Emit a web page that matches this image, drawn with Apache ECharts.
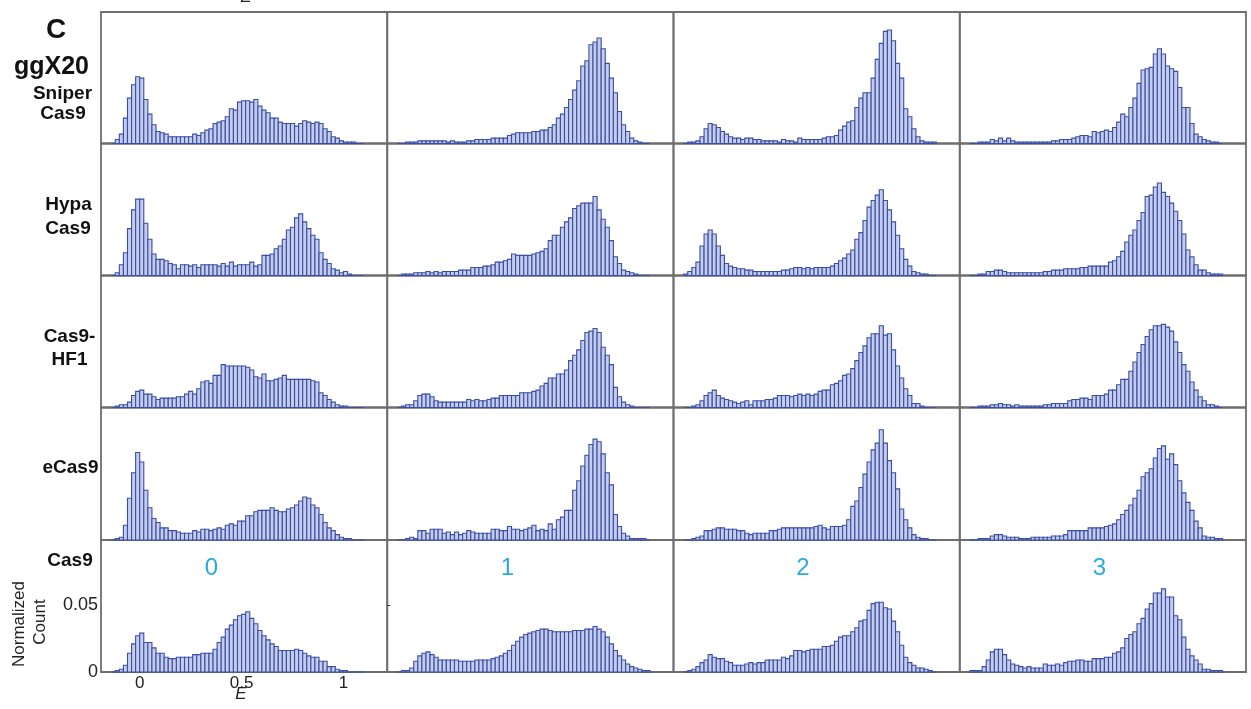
<!DOCTYPE html>
<html>
<head>
<meta charset="utf-8">
<title>ggX20 E histograms</title>
<script src="https://cdn.jsdelivr.net/npm/echarts@6/dist/echarts.min.js"></script>
<style>
    html, body { margin: 0; padding: 0; background: #fff; }
    #chart { width: 1251px; height: 709px; }
</style>
</head>
<body>
<div id="chart"></div>
<script>
// histogram bins: 0.02 wide, starting at E = -0.14
var BIN_START = -0.14;
var BIN_W = 0.02;

var rowNames = ['Sniper Cas9', 'Hypa Cas9', 'Cas9-HF1', 'eCas9', 'Cas9'];
var colNames = ['0', '1', '2', '3'];
var xTickValues = [0, 0.5, 1];
var yTickValues = [0, 0.05];

// normalized counts, one array per panel (row = protein, col = mismatches)
var sniper0 = [0,0.003,0.007,0.019,0.034,0.044,0.050,0.049,0.033,0.022,
    0.014,0.009,0.008,0.007,0.005,0.005,0.005,0.005,0.005,0.005,
    0.007,0.006,0.008,0.010,0.011,0.015,0.016,0.017,0.020,0.026,
    0.025,0.031,0.032,0.032,0.031,0.033,0.028,0.025,0.023,0.019,
    0.019,0.016,0.015,0.015,0.015,0.013,0.015,0.017,0.016,0.015,
    0.016,0.015,0.011,0.009,0.005,0.004,0.002,0.001,0.001,0.001,0,0];
var sniper1 = [0,0,0.001,0.001,0.001,0.002,0.002,0.002,0.002,0.002,
    0.002,0.002,0.001,0.002,0.001,0.001,0.001,0.002,0.002,0.003,
    0.003,0.003,0.003,0.004,0.004,0.004,0.004,0.006,0.007,0.008,
    0.008,0.008,0.008,0.009,0.009,0.010,0.010,0.012,0.014,0.019,
    0.022,0.027,0.033,0.040,0.047,0.058,0.062,0.074,0.076,0.079,
    0.071,0.060,0.049,0.038,0.024,0.014,0.009,0.004,0.002,0.001,0,0];
var sniper2 = [0,0.001,0.001,0.002,0.005,0.011,0.015,0.014,0.012,0.009,
    0.007,0.005,0.004,0.004,0.003,0.004,0.004,0.003,0.003,0.002,
    0.002,0.002,0.002,0.001,0.003,0.002,0.002,0.001,0.004,0.003,
    0.003,0.003,0.003,0.003,0.004,0.005,0.005,0.006,0.010,0.013,
    0.016,0.017,0.027,0.034,0.038,0.038,0.049,0.063,0.075,0.084,
    0.085,0.077,0.060,0.049,0.026,0.020,0.011,0.005,0.002,0.001,0.001,0.001];
var sniper3 = [0,0,0.001,0.001,0.001,0.003,0.002,0.004,0.002,0.004,
    0.002,0.001,0.001,0.001,0.001,0.001,0.001,0.001,0.001,0.001,
    0.002,0.002,0.003,0.003,0.003,0.004,0.005,0.006,0.006,0.005,
    0.009,0.008,0.009,0.010,0.009,0.012,0.016,0.022,0.020,0.027,
    0.034,0.045,0.055,0.056,0.057,0.067,0.071,0.067,0.058,0.056,
    0.054,0.042,0.027,0.027,0.015,0.007,0.005,0.003,0.002,0.001,0.001,0];

var hypa0 = [0,0.002,0.008,0.017,0.035,0.049,0.057,0.057,0.039,0.027,
    0.016,0.012,0.012,0.011,0.009,0.008,0.005,0.008,0.008,0.007,
    0.008,0.006,0.008,0.008,0.008,0.008,0.007,0.009,0.007,0.010,
    0.007,0.008,0.008,0.008,0.010,0.007,0.008,0.015,0.015,0.016,
    0.020,0.022,0.027,0.034,0.036,0.043,0.046,0.040,0.035,0.030,
    0.027,0.017,0.012,0.009,0.005,0.004,0.002,0.003,0.001,0,0,0];
var hypa1 = [0,0.001,0.001,0.001,0.002,0.002,0.002,0.003,0.002,0.003,
    0.002,0.003,0.003,0.003,0.003,0.004,0.004,0.004,0.006,0.006,
    0.006,0.007,0.007,0.008,0.010,0.010,0.011,0.012,0.016,0.015,
    0.015,0.015,0.015,0.016,0.017,0.018,0.020,0.026,0.030,0.030,
    0.036,0.040,0.043,0.050,0.052,0.054,0.054,0.054,0.059,0.049,
    0.042,0.036,0.026,0.014,0.009,0.004,0.003,0.002,0.001,0,0,0];
var hypa2 = [0.001,0.003,0.006,0.010,0.022,0.031,0.034,0.031,0.022,0.015,
    0.009,0.007,0.006,0.005,0.005,0.004,0.004,0.003,0.003,0.003,
    0.003,0.003,0.003,0.003,0.004,0.004,0.005,0.006,0.006,0.005,
    0.006,0.005,0.006,0.006,0.006,0.006,0.007,0.009,0.011,0.013,
    0.016,0.019,0.027,0.032,0.041,0.051,0.056,0.060,0.064,0.056,
    0.049,0.040,0.030,0.020,0.012,0.007,0.003,0.002,0.001,0.001,0,0];
var hypa3 = [0,0,0.001,0.001,0.003,0.003,0.004,0.004,0.003,0.002,
    0.002,0.002,0.002,0.002,0.002,0.002,0.002,0.002,0.003,0.003,
    0.004,0.004,0.004,0.005,0.005,0.005,0.005,0.006,0.006,0.007,
    0.007,0.007,0.007,0.007,0.010,0.011,0.014,0.018,0.025,0.030,
    0.034,0.041,0.047,0.059,0.060,0.066,0.069,0.062,0.059,0.054,
    0.048,0.041,0.031,0.019,0.014,0.008,0.004,0.004,0.002,0.001,0.001,0.001];

var hf1_0 = [0,0.001,0.002,0.002,0.004,0.009,0.012,0.013,0.010,0.010,
    0.008,0.006,0.007,0.007,0.007,0.007,0.008,0.008,0.010,0.012,
    0.010,0.014,0.019,0.020,0.018,0.024,0.024,0.032,0.031,0.031,
    0.031,0.031,0.031,0.030,0.028,0.023,0.022,0.025,0.020,0.020,
    0.021,0.022,0.024,0.021,0.021,0.021,0.021,0.021,0.021,0.020,
    0.019,0.011,0.009,0.006,0.004,0.002,0.001,0.001,0,0,0,0];
var hf1_1 = [0,0.001,0.002,0.002,0.005,0.009,0.010,0.010,0.008,0.005,
    0.004,0.004,0.004,0.004,0.004,0.004,0.004,0.006,0.005,0.006,
    0.005,0.005,0.006,0.007,0.007,0.009,0.009,0.009,0.009,0.009,
    0.011,0.011,0.011,0.012,0.013,0.016,0.018,0.022,0.022,0.025,
    0.025,0.028,0.035,0.039,0.043,0.050,0.056,0.057,0.059,0.056,
    0.045,0.039,0.032,0.015,0.008,0.004,0.002,0.001,0,0,0,0];
var hf1_2 = [0,0,0.001,0.002,0.005,0.009,0.011,0.013,0.009,0.007,
    0.006,0.005,0.004,0.003,0.004,0.005,0.002,0.005,0.005,0.005,
    0.006,0.006,0.007,0.009,0.009,0.009,0.008,0.009,0.010,0.009,
    0.010,0.009,0.010,0.012,0.013,0.013,0.017,0.018,0.020,0.024,
    0.025,0.029,0.035,0.041,0.046,0.052,0.055,0.055,0.061,0.054,
    0.055,0.043,0.031,0.022,0.014,0.009,0.003,0.003,0.001,0,0,0];
var hf1_3 = [0,0,0.001,0.001,0.001,0.002,0.002,0.003,0.002,0.002,
    0.001,0.002,0.001,0.001,0.001,0.001,0.001,0.001,0.002,0.002,
    0.003,0.003,0.003,0.003,0.005,0.006,0.006,0.007,0.007,0.006,
    0.009,0.009,0.009,0.010,0.013,0.013,0.017,0.021,0.021,0.027,
    0.034,0.041,0.047,0.053,0.058,0.061,0.061,0.062,0.060,0.057,
    0.049,0.041,0.032,0.027,0.019,0.013,0.008,0.005,0.002,0.002,0.001,0];

var ecas0 = [0,0.001,0.002,0.011,0.031,0.050,0.065,0.058,0.037,0.024,
    0.016,0.013,0.009,0.009,0.007,0.007,0.006,0.005,0.005,0.005,
    0.007,0.006,0.008,0.008,0.007,0.008,0.009,0.008,0.011,0.012,
    0.011,0.014,0.014,0.018,0.018,0.021,0.022,0.022,0.022,0.024,
    0.022,0.021,0.021,0.023,0.024,0.026,0.029,0.032,0.031,0.026,
    0.024,0.019,0.013,0.009,0.007,0.004,0.002,0.001,0.001,0,0,0];
var ecas1 = [0,0,0.001,0.002,0.001,0.007,0.007,0.005,0.008,0.008,
    0.008,0.005,0.006,0.004,0.006,0.004,0.005,0.007,0.006,0.005,
    0.005,0.005,0.005,0.008,0.008,0.007,0.007,0.010,0.008,0.008,
    0.007,0.008,0.009,0.011,0.007,0.008,0.007,0.012,0.008,0.015,
    0.017,0.022,0.022,0.037,0.044,0.055,0.063,0.071,0.075,0.073,
    0.064,0.050,0.041,0.019,0.010,0.005,0.003,0.001,0.001,0.001,0.001,0];
var ecas2 = [0,0,0.001,0.002,0.003,0.007,0.007,0.008,0.009,0.009,
    0.008,0.008,0.008,0.007,0.007,0.005,0.004,0.005,0.005,0.005,
    0.005,0.007,0.007,0.008,0.009,0.009,0.009,0.009,0.009,0.009,
    0.009,0.009,0.010,0.011,0.009,0.008,0.010,0.010,0.010,0.011,
    0.015,0.025,0.029,0.039,0.049,0.058,0.067,0.072,0.082,0.072,
    0.059,0.050,0.038,0.023,0.015,0.009,0.004,0.002,0.001,0.001,0,0];
var ecas3 = [0,0,0.001,0.001,0.001,0.003,0.004,0.004,0.003,0.002,
    0.002,0.002,0.001,0.001,0.001,0.002,0.002,0.002,0.002,0.002,
    0.003,0.003,0.003,0.004,0.007,0.007,0.007,0.007,0.007,0.009,
    0.009,0.009,0.009,0.010,0.011,0.012,0.015,0.019,0.022,0.026,
    0.031,0.037,0.047,0.050,0.053,0.061,0.068,0.070,0.060,0.064,
    0.056,0.044,0.035,0.028,0.022,0.014,0.009,0.003,0.002,0.002,0.001,0.001];

var cas0 = [0,0.001,0.002,0.005,0.014,0.021,0.027,0.029,0.022,0.022,
    0.018,0.014,0.014,0.011,0.010,0.010,0.011,0.011,0.011,0.011,
    0.013,0.013,0.014,0.014,0.014,0.017,0.022,0.026,0.032,0.035,
    0.039,0.042,0.043,0.045,0.040,0.036,0.031,0.027,0.024,0.021,
    0.019,0.016,0.016,0.016,0.016,0.017,0.016,0.014,0.012,0.011,
    0.011,0.008,0.008,0.004,0.004,0.002,0.001,0.001,0,0,0,0];
var cas1 = [0,0.001,0.001,0.003,0.008,0.012,0.014,0.015,0.013,0.011,
    0.009,0.009,0.009,0.009,0.009,0.008,0.008,0.008,0.008,0.009,
    0.009,0.009,0.009,0.010,0.011,0.012,0.014,0.016,0.020,0.023,
    0.026,0.028,0.029,0.030,0.031,0.032,0.032,0.031,0.030,0.030,
    0.030,0.030,0.030,0.031,0.031,0.031,0.032,0.032,0.034,0.032,
    0.030,0.026,0.021,0.016,0.012,0.009,0.006,0.004,0.003,0.002,0.001,0.001];
var cas2 = [0,0.001,0.002,0.004,0.007,0.009,0.013,0.011,0.010,0.010,
    0.008,0.007,0.005,0.005,0.005,0.006,0.007,0.006,0.007,0.007,
    0.009,0.009,0.009,0.009,0.011,0.010,0.012,0.016,0.016,0.015,
    0.016,0.017,0.017,0.017,0.019,0.019,0.020,0.023,0.026,0.027,
    0.027,0.030,0.033,0.038,0.039,0.046,0.051,0.052,0.052,0.048,
    0.047,0.038,0.030,0.020,0.011,0.007,0.005,0.003,0.003,0.002,0.001,0];
var cas3 = [0.001,0.001,0.001,0.004,0.009,0.015,0.017,0.017,0.013,0.009,
    0.006,0.005,0.004,0.003,0.004,0.003,0.003,0.003,0.006,0.005,
    0.005,0.006,0.005,0.007,0.008,0.008,0.009,0.009,0.008,0.008,
    0.010,0.010,0.010,0.011,0.011,0.014,0.015,0.018,0.025,0.028,
    0.030,0.036,0.040,0.047,0.051,0.059,0.059,0.062,0.056,0.056,
    0.042,0.039,0.026,0.017,0.012,0.009,0.006,0.002,0.002,0.001,0.001,0.001];

var panels = [
    [sniper0, sniper1, sniper2, sniper3],
    [hypa0, hypa1, hypa2, hypa3],
    [hf1_0, hf1_1, hf1_2, hf1_3],
    [ecas0, ecas1, ecas2, ecas3],
    [cas0, cas1, cas2, cas3]
];

// layout of the 5x4 panel grid (pixels)
var colLeft = [101, 387.25, 673.5, 959.75];
var colWidth = 286.25;
var rowEdge = [12, 143.5, 275.5, 407.5, 540, 672];

var FONT = '"Liberation Sans", Arial, Helvetica, sans-serif';
var BAR_FILL = '#c5cdeb';
var BAR_LINE = '#3a4ea6';
var FRAME = '#6e6e6e';

function toBins(counts) {
    return counts.map(function (v, i) {
        var x0 = BIN_START + i * BIN_W;
        return [x0, x0 + BIN_W, v];
    });
}

function renderBin(params, api) {
    var p0 = api.coord([api.value(0), api.value(2)]);
    var p1 = api.coord([api.value(1), 0]);
    return {
        type: 'rect',
        shape: {x: p0[0], y: p0[1], width: p1[0] - p0[0], height: p1[1] - p0[1]},
        style: {fill: BAR_FILL, stroke: BAR_LINE, lineWidth: 1.1}
    };
}

var grids = [], xAxes = [], yAxes = [], series = [];
panels.forEach(function (row, r) {
    row.forEach(function (counts, c) {
        var k = grids.length;
        var corner = (r === 4 && c === 0);
        var tickOnly = (r === 4 && c === 1);
        grids.push({
            left: colLeft[c],
            top: rowEdge[r],
            width: colWidth,
            height: rowEdge[r + 1] - rowEdge[r],
            show: true,
            borderColor: FRAME,
            borderWidth: 1.8,
            backgroundColor: 'transparent'
        });
        xAxes.push({
            gridIndex: k,
            type: 'value',
            min: -0.19,
            max: 1.215,
            show: corner,
            position: 'bottom',
            axisLine: {show: false, onZero: false},
            axisTick: {show: false},
            splitLine: {show: false},
            axisLabel: {
                show: corner,
                customValues: xTickValues,
                margin: 3,
                color: '#222',
                fontSize: 17,
                fontFamily: FONT
            }
        });
        yAxes.push({
            gridIndex: k,
            type: 'value',
            min: 0,
            max: 0.0985,
            show: corner || tickOnly,
            position: 'left',
            axisLine: {show: false, onZero: false},
            axisTick: {
                show: tickOnly,
                inside: true,
                length: 3,
                customValues: [0.05],
                lineStyle: {color: '#333'}
            },
            splitLine: {show: false},
            axisLabel: {
                show: corner,
                customValues: yTickValues,
                margin: 3,
                color: '#222',
                fontSize: 18,
                fontFamily: FONT
            }
        });
        series.push({
            type: 'custom',
            name: rowNames[r] + ' / ' + colNames[c],
            xAxisIndex: k,
            yAxisIndex: k,
            renderItem: renderBin,
            encode: {x: [0, 1], y: 2},
            data: toBins(counts),
            silent: true
        });
    });
});

function label(text, x, y, size, opts) {
    opts = opts || {};
    return {
        type: 'text',
        x: x,
        y: y,
        rotation: opts.rotation || 0,
        style: {
            text: text,
            font: (opts.style || '') + ' ' + (opts.weight || 'normal') + ' ' + size + 'px ' + FONT,
            fill: opts.color || '#111',
            textAlign: 'center',
            textVerticalAlign: 'middle'
        },
        z: 10
    };
}

var graphics = [
    label('E', 246, -3, 17, {style: 'italic', color: '#222'}),
    label('C', 56, 30, 28, {weight: 'bold'}),
    label('ggX20', 51.5, 67, 25, {weight: 'bold'}),
    label('Sniper', 62.5, 94, 19, {weight: 'bold'}),
    label('Cas9', 63, 114, 19, {weight: 'bold'}),
    label('Hypa', 68.5, 205, 19, {weight: 'bold'}),
    label('Cas9', 68, 229, 19, {weight: 'bold'}),
    label('Cas9-', 69.5, 337, 19, {weight: 'bold'}),
    label('HF1', 69.5, 360, 19, {weight: 'bold'}),
    label('eCas9', 70.5, 468, 19, {weight: 'bold'}),
    label('Cas9', 70, 561, 19, {weight: 'bold'}),
    label('Normalized', 19, 624, 17, {rotation: Math.PI / 2, color: '#222'}),
    label('Count', 40, 622, 17, {rotation: Math.PI / 2, color: '#222'}),
    label('E', 241, 694, 17, {style: 'italic', color: '#222'})
];
var numX = [211.5, 507.5, 803, 1099.5];
colNames.forEach(function (name, c) {
    graphics.push(label(name, numX[c], 568, 24, {color: '#29abe2'}));
});

var myChart = echarts.init(document.getElementById('chart'), null, {renderer: 'canvas'});
myChart.setOption({
    backgroundColor: '#ffffff',
    animation: false,
    grid: grids,
    xAxis: xAxes,
    yAxis: yAxes,
    series: series,
    graphic: graphics
});
</script>
</body>
</html>
